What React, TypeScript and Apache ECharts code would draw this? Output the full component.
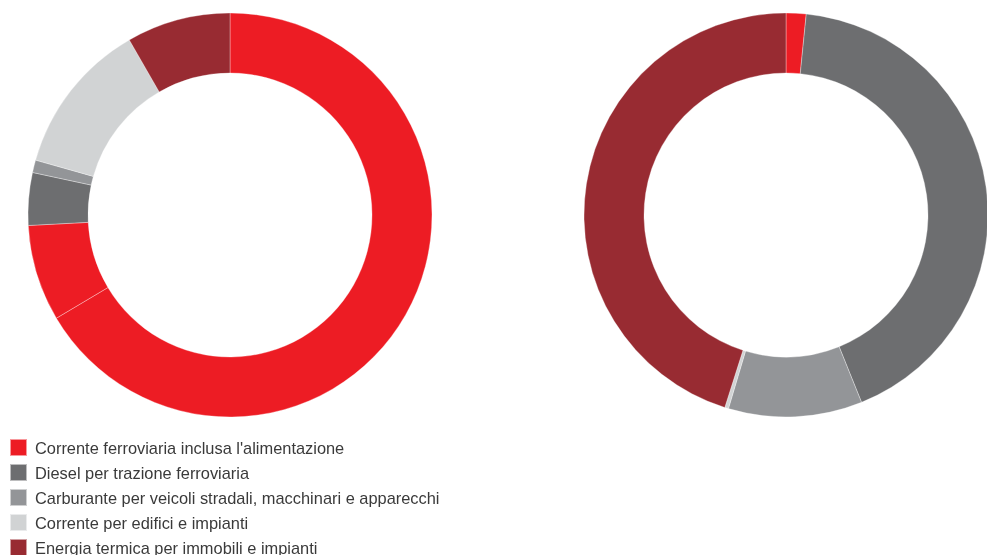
import React, { useEffect, useRef } from "react";
import * as echarts from "echarts";

const categories = [
  "Corrente ferroviaria inclusa l'alimentazione",
  "Diesel per trazione ferroviaria",
  "Carburante per veicoli stradali, macchinari e apparecchi",
  "Corrente per edifici e impianti",
  "Energia termica per immobili e impianti",
];
const colors = ["#ED1C24", "#6D6E70", "#939598", "#D1D3D4", "#982B32"];

// Left donut: railway current split into two parts
const leftNames = [
  categories[0],
  "Corrente ferroviaria (parte 2)",
  categories[1],
  categories[2],
  categories[3],
  categories[4],
];
const leftValues = [66.4, 7.7, 4.2, 1.0, 12.3, 8.3];
const leftColors = [colors[0], colors[0], colors[1], colors[2], colors[3], colors[4]];

const rightValues = [1.6, 42.3, 10.7, 0.3, 45.1];

export default function App() {
  const ref = useRef<HTMLDivElement>(null);
  useEffect(() => {
    if (!ref.current) return;
    const chart = echarts.init(ref.current, undefined, { renderer: "svg" });
    const border = { borderColor: "rgba(255,255,255,0.55)", borderWidth: 0.6 };
    chart.setOption({
      animation: false,
      legend: {
        data: categories,
        orient: "vertical",
        left: 9,
        top: 438,
        itemWidth: 17,
        itemHeight: 17,
        itemGap: 6,
        padding: 0,
        icon: "rect",
        selectedMode: false,
        textStyle: {
          fontSize: 16.4,
          lineHeight: 17,
          fontFamily: "Liberation Sans, Arial, sans-serif",
          color: "#3a3a3a",
          padding: [0, 0, 0, 3],
        },
      },
      series: [
        {
          type: "pie",
          center: [230, 215],
          radius: [142, 202],
          startAngle: 90,
          clockwise: true,
          label: { show: false },
          labelLine: { show: false },
          emphasis: { disabled: true },
          data: leftValues.map((v, i) => ({
            name: leftNames[i],
            value: v,
            itemStyle: { color: leftColors[i], ...border },
          })),
        },
        {
          type: "pie",
          center: [786, 215],
          radius: [142, 202],
          startAngle: 90,
          clockwise: true,
          label: { show: false },
          labelLine: { show: false },
          emphasis: { disabled: true },
          data: rightValues.map((v, i) => ({
            name: categories[i],
            value: v,
            itemStyle: { color: colors[i], ...border },
          })),
        },
      ],
    });
    return () => chart.dispose();
  }, []);
  return (
    <div style={{ position: "fixed", left: 0, top: 0, width: 987, height: 555, overflow: "hidden" }}>
      <div ref={ref} style={{ width: 987, height: 620 }} />
    </div>
  );
}
